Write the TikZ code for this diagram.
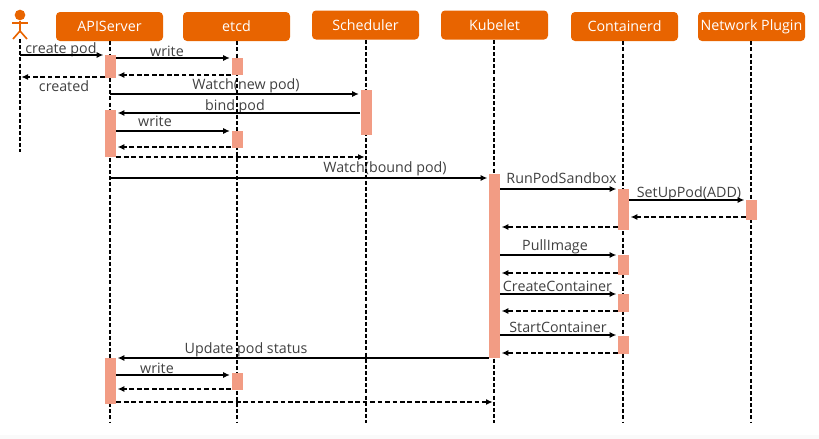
\documentclass[tikz,border=0pt]{standalone}
\usepackage{fontspec}
\setmainfont{Open Sans}
\usepackage{tikz}
\usetikzlibrary{arrows.meta}
\definecolor{headorange}{HTML}{E86400}
\definecolor{barsalmon}{HTML}{F29C84}
\definecolor{labelgrey}{HTML}{404040}
\definecolor{stripgrey}{HTML}{FAFAFA}
\tikzset{
  headbox/.style={rectangle,rounded corners=3pt,fill=headorange,text=white,minimum width=80.25pt,minimum height=21.75pt,inner sep=0pt,font=\fontsize{10.7}{12}\selectfont},
  barbox/.style={rectangle,fill=barsalmon,minimum width=8.25pt,inner sep=0pt},
  lifeline/.style={black,line width=1.2pt,dash pattern=on 3pt off 1.6pt},
  callline/.style={black,line width=1.2pt,-{Latex[length=5pt,width=4.5pt]},shorten >=1pt},
  replyline/.style={callline,dash pattern=on 3.6pt off 2pt},
  msglabel/.style={text=labelgrey,inner sep=0pt,font=\fontsize{10.7}{12}\selectfont},
}
\newcommand{\headnode}[4]{\node[headbox] (#1) at ( #2 , #3 ) {#4};}
\newcommand{\life}[3]{\coordinate (#1end) at ( #2 , #3 ); \draw[lifeline] (#1end |- #1.south) -- (#1end);}
\newcommand{\activation}[4]{\node[barbox,minimum height={(#4-#3)*0.75pt}] (#1) at ( #2 , {(#3+#4)/2} ) {};}
\newcommand{\callmsg}[3]{\draw[callline] (#1 |- 0,#3) -- (#2 |- 0,#3);}
\newcommand{\replymsg}[3]{\draw[replyline] (#1 |- 0,#3) -- (#2 |- 0,#3);}
\newcommand{\msgtext}[4]{\node[msglabel] (#1) at ( #2 , #3 ) {#4};}
\begin{document}
\begin{tikzpicture}[x=0.75pt,y=-0.75pt]
        \useasboundingbox (0,0) rectangle (819,439);
        \fill[stripgrey] (0,435) rectangle (819,439);

        % labels, under the lifelines
        \msgtext{lcreate}{61}{49.5}{create pod}
        \msgtext{lwriteA}{167}{51}{write}
        \msgtext{lcreated}{64}{86.5}{created}
        \msgtext{lwatchnew}{246}{85.5}{Watch(new pod)}
        \msgtext{lbind}{235}{106.5}{bind pod}
        \msgtext{lwriteB}{155}{121}{write}
        \msgtext{lwatchbound}{385}{168.5}{Watch(bound pod)}
        \msgtext{lsandbox}{561.5}{178}{RunPodSandbox}
        \msgtext{lsetup}{689}{193.5}{SetUpPod(ADD)}
        \msgtext{lpull}{555}{247}{PullImage}
        \msgtext{lcreatec}{557.5}{286}{CreateContainer}
        \msgtext{lstart}{558}{327}{StartContainer}
        \msgtext{lupdate}{246}{350}{Update pod status}
        \msgtext{lwriteC}{157}{368.5}{write}

        % heads
        \headnode{api}{109.5}{26.5}{APIServer}
        \headnode{etcd}{236.5}{26.5}{etcd}
        \headnode{sched}{365.5}{25}{Scheduler}
        \headnode{kubelet}{494.5}{25}{Kubelet}
        \headnode{contd}{624.5}{26.5}{Containerd}
        \headnode{netplug}{751.5}{26.5}{Network Plugin}

        % actor
        \node[circle,fill=headorange,minimum size=8pt,inner sep=0pt] (actor) at (20,15) {};
        \coordinate (actorhip) at (20,31);
        \coordinate (armleft) at (12,23);
        \coordinate (armright) at (28,23);
        \coordinate (footleft) at (13,39);
        \coordinate (footright) at (27,39);
        \draw[headorange,line width=1.2pt] (actor) -- (actorhip);
        \draw[headorange,line width=1.2pt] (armleft) -- (armright);
        \draw[headorange,line width=1.2pt] (footleft) -- (actorhip) -- (footright);

        % lifelines
        \coordinate (actorend) at (20,152);
        \draw[lifeline] (footleft -| actorend) -- (actorend);
        \life{api}{110}{423}
        \life{etcd}{237}{423}
        \life{sched}{366}{423}
        \life{kubelet}{494}{423}
        \life{contd}{623}{423}
        \life{netplug}{751}{423}

        % activations
        \activation{apiA}{110.5}{55}{78}
        \activation{etcdA}{237}{58}{75}
        \activation{schedA}{366}{89.5}{135}
        \activation{apiB}{110.5}{110}{157}
        \activation{etcdB}{237}{131}{148}
        \activation{kubeletA}{494.5}{174}{358}
        \activation{contdA}{623.5}{189}{230}
        \activation{netplugA}{751.5}{200}{220}
        \activation{contdB}{623.5}{254.5}{274.5}
        \activation{contdC}{623.5}{294}{311.5}
        \activation{contdD}{623.5}{336}{353.5}
        \activation{apiC}{110.5}{358}{404}
        \activation{etcdC}{237}{373}{390}

        % first block
        \callmsg{actorend}{apiA.west}{55}
        \callmsg{apiA.east}{etcdA.west}{58}
        \replymsg{etcdA.west}{apiA.east}{75}
        \replymsg{apiA.west}{actorend}{77}
        \callmsg{apiend}{schedA.west}{94}
        \callmsg{schedA.west}{apiB.east}{113}
        \callmsg{apiB.east}{etcdB.west}{131}
        \replymsg{etcdB.west}{apiB.east}{147}
        \replymsg{apiB.east}{schedend}{157}

        % second block
        \callmsg{apiend}{kubeletA.west}{178}
        \callmsg{kubeletA.east}{contdA.west}{189}
        \callmsg{contdA.east}{netplugA.west}{200}
        \replymsg{netplugA.west}{contdA.east}{217}
        \replymsg{contdA.west}{kubeletA.east}{227}
        \callmsg{kubeletA.east}{contdB.west}{255}
        \replymsg{contdB.west}{kubeletA.east}{273}
        \callmsg{kubeletA.east}{contdC.west}{294}
        \replymsg{contdC.west}{kubeletA.east}{311}
        \callmsg{kubeletA.east}{contdD.west}{335}
        \replymsg{contdD.west}{kubeletA.east}{353}

        % third block
        \callmsg{kubeletA.west}{apiC.east}{358}
        \callmsg{apiC.east}{etcdC.west}{375}
        \replymsg{etcdC.west}{apiC.east}{389}
        \replymsg{apiC.east}{kubeletend}{402}
\end{tikzpicture}
\end{document}
